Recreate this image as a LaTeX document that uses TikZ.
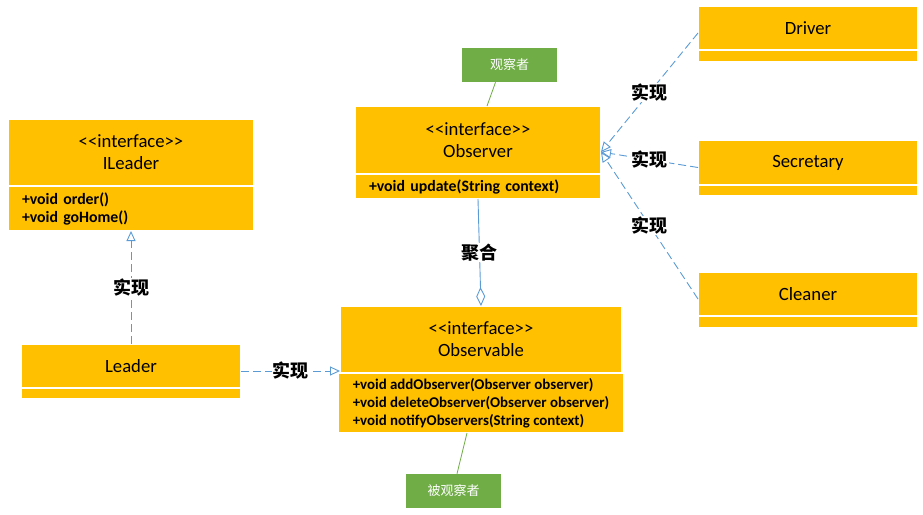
\documentclass[tikz,border=0pt]{standalone}
\usepackage{fontspec}
\setmainfont{Carlito}
\newfontfamily\cjk{Noto Sans CJK SC}
\usetikzlibrary{arrows.meta,positioning}
\definecolor{umlorange}{HTML}{FFC000}
\definecolor{notegreen}{HTML}{70AD47}
\definecolor{linkblue}{HTML}{5B9BD5}

\begin{document}
\begin{tikzpicture}[x=1pt,y=-1pt,node distance=0pt,semithick]
		\tikzstyle{classhead}=[rectangle,fill=umlorange,draw=white,line width=1.2pt,align=center,inner sep=0pt,outer sep=0pt,font=\fontsize{18.7}{22}\selectfont]
		\tikzstyle{classbody}=[rectangle,fill=umlorange,draw=white,line width=1.2pt,align=left,inner xsep=14pt,inner ysep=0pt,outer sep=0pt,font=\fontsize{15.8}{18}\selectfont\bfseries]
		\tikzstyle{note}=[rectangle,fill=notegreen,text=white,minimum width=95pt,minimum height=34pt,font=\cjk\fontsize{13}{15}\selectfont]
		\tikzstyle{noteline}=[draw=notegreen,line width=0.8pt]
		\tikzstyle{realize}=[draw=linkblue,line width=0.9pt,dash pattern=on 8pt off 4pt,-{Triangle[open,length=10pt,width=9pt]}]
		\tikzstyle{aggr}=[draw=linkblue,line width=0.9pt,-{Diamond[open,length=19pt,width=9pt]}]
		\tikzstyle{lbl}=[fill=white,inner sep=1pt,text=black,font=\cjk\bfseries\fontsize{18}{20}\selectfont]
		\useasboundingbox (0,0) rectangle (923,514);
		% interfaces
		\node[classhead,minimum width=246pt,minimum height=67pt] (ileaderHead) at (131,152.5) {<{}<interface>{}>\\ILeader};
		\node[classbody,text width=218pt,minimum height=45pt] (ileaderBody) [below=of ileaderHead] {+void order()\\+void goHome()};
		\node[classhead,minimum width=246pt,minimum height=68pt] (observerHead) at (478,140) {<{}<interface>{}>\\Observer};
		\node[classbody,text width=218pt,minimum height=25pt] (observerBody) [below=of observerHead] {+void update(String context)};
		\node[classhead,minimum width=282pt,minimum height=67pt] (observableHead) at (481,339.5) {<{}<interface>{}>\\Observable};
		\node[classbody,minimum width=282pt,minimum height=60pt,font=\fontsize{14.9}{18}\selectfont\bfseries] (observableBody) [below=of observableHead] {+void addObserver(Observer observer)\\+void deleteObserver(Observer observer)\\+void notifyObservers(String context)};
		% classes
		\node[classhead,minimum width=220pt,minimum height=44pt] (leaderHead) at (131,366) {Leader};
		\node[classbody,text width=192pt,minimum height=11pt] (leaderBody) [below=of leaderHead] {};
		\node[classhead,minimum width=220pt,minimum height=44pt] (driverHead) at (808,28) {Driver};
		\node[classbody,text width=192pt,minimum height=12pt] (driverBody) [below=of driverHead] {};
		\node[classhead,minimum width=220pt,minimum height=45pt] (secretaryHead) at (808,162.5) {Secretary};
		\node[classbody,text width=192pt,minimum height=11pt] (secretaryBody) [below=of secretaryHead] {};
		\node[classhead,minimum width=220pt,minimum height=44pt] (cleanerHead) at (808,294) {Cleaner};
		\node[classbody,text width=192pt,minimum height=12pt] (cleanerBody) [below=of cleanerHead] {};
		% notes
		\node[note] (watcher) at (509.5,65) {观察者};
		\node[note] (watched) at (453.5,491) {被观察者};
		\coordinate (obsTip) at ([yshift=-12pt]observerHead.east);
		\path
		(leaderHead.north) edge[realize] node[lbl] {实现} (ileaderBody.south)
		([yshift=-5pt]leaderHead.east) edge[realize] node[lbl] {实现} ([yshift=-5pt]leaderHead.east -| observableHead.west)
		([yshift=-5pt]driverHead.west) edge[realize] node[lbl] {实现} (obsTip)
		([yshift=-5pt]secretaryHead.west) edge[realize] node[lbl] {实现} (obsTip)
		([yshift=-5pt]cleanerHead.west) edge[realize] node[lbl] {实现} (obsTip)
		(observerBody.south) edge[aggr] node[lbl] {聚合} (observableHead.north)
		([xshift=-14pt]watcher.south) edge[noteline] ([xshift=9pt]observerHead.north)
		([xshift=-14pt]observableBody.south) edge[noteline] ([xshift=3.5pt]watched.north);
\end{tikzpicture}
\end{document}
